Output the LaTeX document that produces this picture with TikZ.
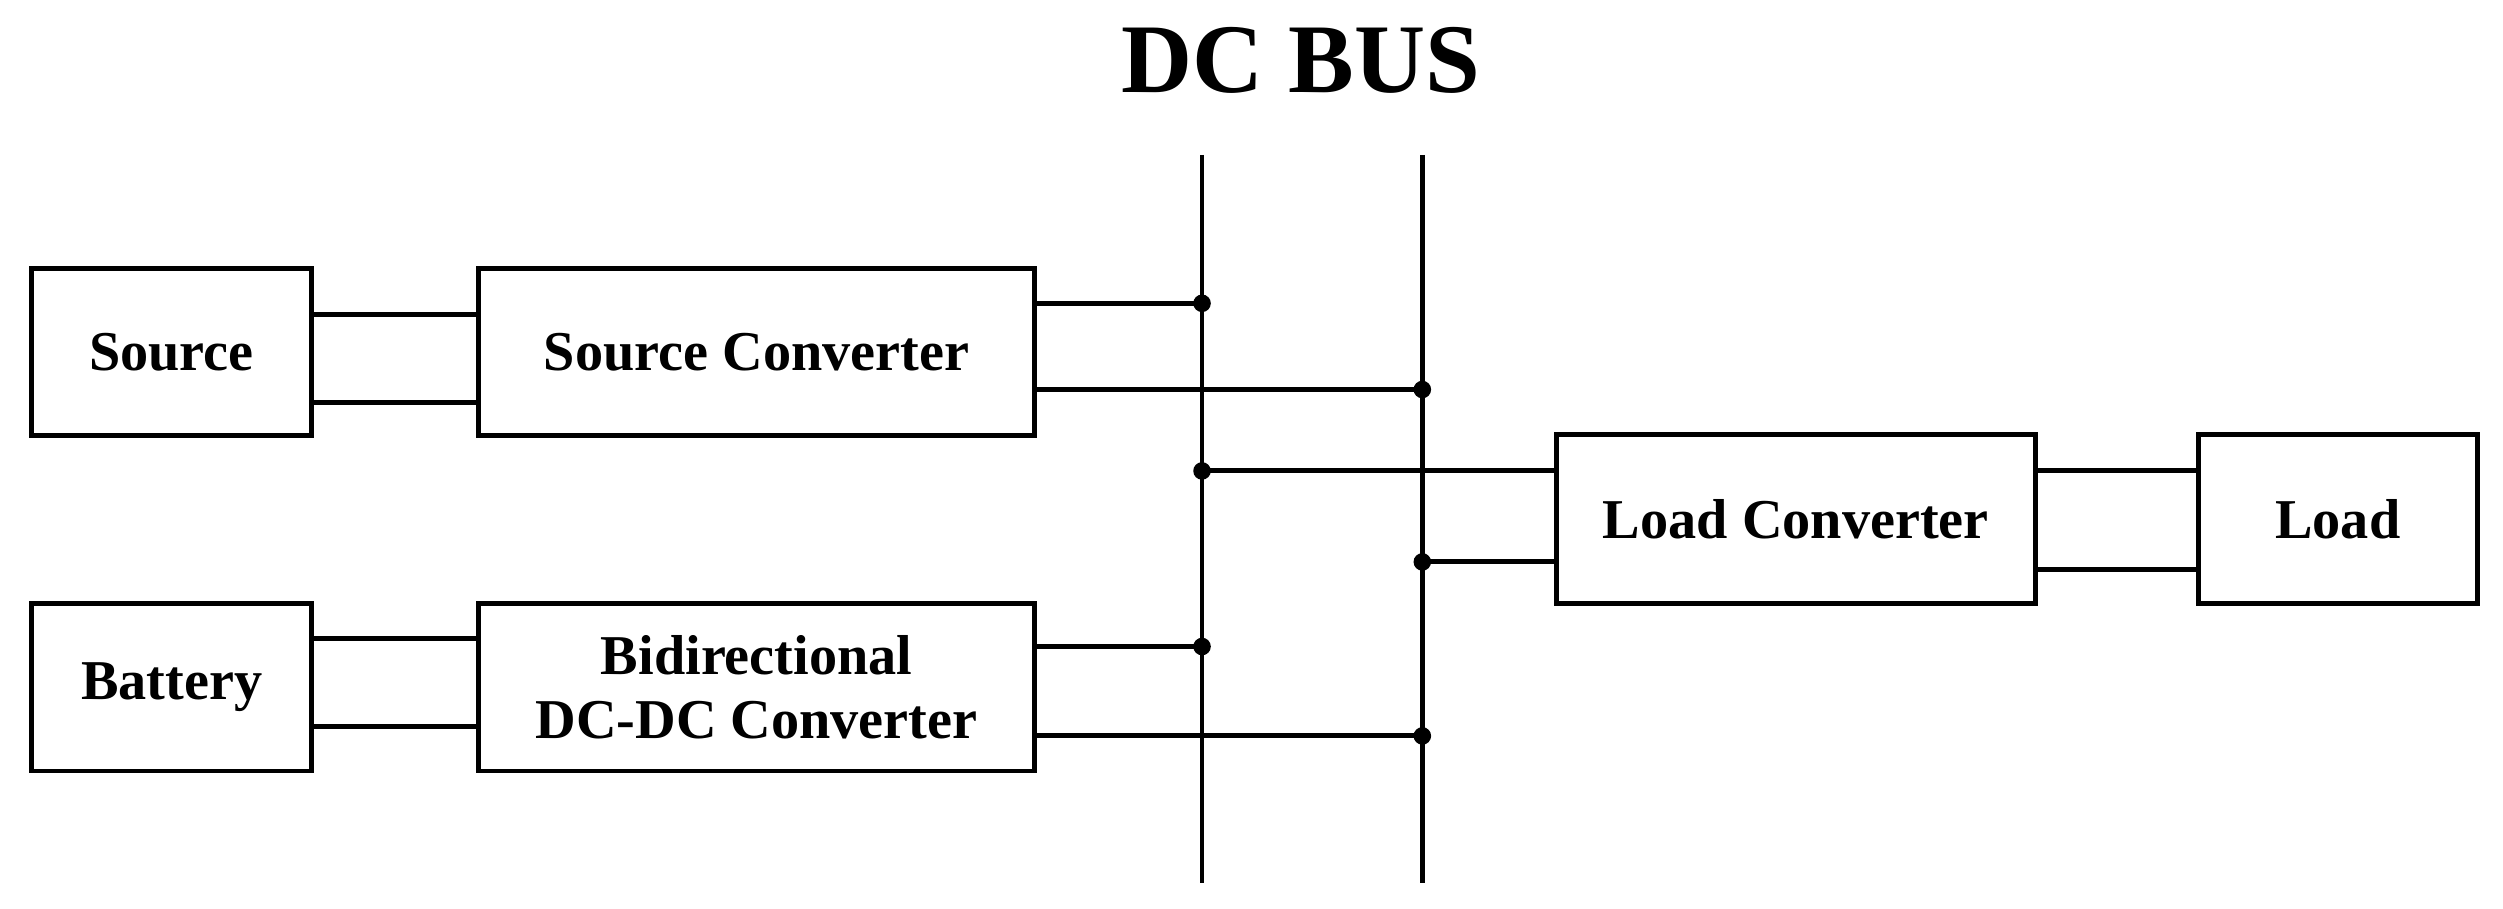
\documentclass[tikz,border=0pt]{standalone}
\usepackage{fontspec}
\setmainfont{Liberation Serif}
\tikzset{
  blk/.style={draw, line width=1.4pt, font=\fontsize{16}{18}\selectfont\bfseries, align=center, inner sep=0pt},
  wire/.style={line width=1.4pt},
  dot/.style={circle, fill, inner sep=0pt, minimum size=5pt}
}
\begin{document}
\begin{tikzpicture}[x=0.01596cm, y=-0.01596cm]
  \useasboundingbox (0, 0) rectangle (1568, 569);
  \node[font=\fontsize{28}{32}\selectfont\bfseries] (title) at (815, 38) {DC BUS};
  % blocks
  \node[blk, minimum width=175*0.01596cm, minimum height=105*0.01596cm] (src) at (107.5, 220.5) {Source};
  \node[blk, minimum width=348*0.01596cm, minimum height=105*0.01596cm] (sconv) at (474, 220.5) {Source Converter};
  \node[blk, minimum width=175*0.01596cm, minimum height=105*0.01596cm] (bat) at (107.5, 430.5) {Battery};
  \node[blk, minimum width=348*0.01596cm, minimum height=105*0.01596cm] (bconv) at (474, 430.5) {Bidirectional\\DC-DC Converter};
  \node[blk, minimum width=300*0.01596cm, minimum height=106*0.01596cm] (lconv) at (1125, 325) {Load Converter};
  \node[blk, minimum width=175*0.01596cm, minimum height=106*0.01596cm] (load) at (1464.5, 325) {Load};
  % bus
  \coordinate (b1t) at (753, 97);  \coordinate (b1b) at (753, 553);
  \coordinate (b2t) at (891, 97);  \coordinate (b2b) at (891, 553);
  \draw[wire] (b1t) -- (b1b);
  \draw[wire] (b2t) -- (b2b);
  % links
  \draw[wire] (src.east |- 0, 197) -- (sconv.west |- 0, 197);
  \draw[wire] (src.east |- 0, 252) -- (sconv.west |- 0, 252);
  \draw[wire] (bat.east |- 0, 400) -- (bconv.west |- 0, 400);
  \draw[wire] (bat.east |- 0, 455) -- (bconv.west |- 0, 455);
  \draw[wire] (lconv.east |- 0, 295) -- (load.west |- 0, 295);
  \draw[wire] (lconv.east |- 0, 357) -- (load.west |- 0, 357);
  % to the bus
  \draw[wire] (sconv.east |- 0, 190) -- (b1t |- 0, 190) node[dot] {};
  \draw[wire] (sconv.east |- 0, 244) -- (b2t |- 0, 244) node[dot] {};
  \draw[wire] (bconv.east |- 0, 405) -- (b1t |- 0, 405) node[dot] {};
  \draw[wire] (bconv.east |- 0, 461) -- (b2t |- 0, 461) node[dot] {};
  \draw[wire] (lconv.west |- 0, 295) -- (b1t |- 0, 295) node[dot] {};
  \draw[wire] (lconv.west |- 0, 352) -- (b2t |- 0, 352) node[dot] {};
\end{tikzpicture}
\end{document}
